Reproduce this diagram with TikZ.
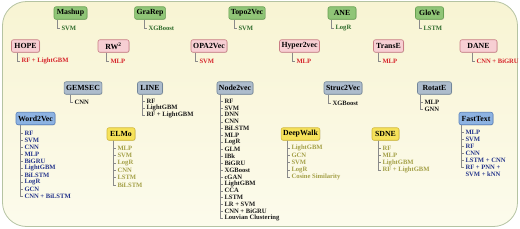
\documentclass[tikz,border=0pt]{standalone}
\usepackage{fontspec}
\setmainfont{Liberation Serif}
\usetikzlibrary{shadows}
\definecolor{bgA}{HTML}{F8F4D3}
\definecolor{bgB}{HTML}{FCFBEC}
\definecolor{bgline}{HTML}{B5C3A2}
\definecolor{gfill}{HTML}{90C577}
\definecolor{gdraw}{HTML}{68A052}
\definecolor{gtext}{HTML}{2E6B2A}
\definecolor{pfill}{HTML}{F7CFD3}
\definecolor{pdraw}{HTML}{C97C84}
\definecolor{ptext}{HTML}{D7252C}
\definecolor{sfill}{HTML}{ADBCCC}
\definecolor{sdraw}{HTML}{72869A}
\definecolor{stext}{HTML}{1C1C1C}
\definecolor{bfill}{HTML}{8DB3E2}
\definecolor{bdraw}{HTML}{5A82BC}
\definecolor{btext}{HTML}{26368C}
\definecolor{yfill}{HTML}{F6E25A}
\definecolor{ydraw}{HTML}{D2B83A}
\definecolor{ytext}{HTML}{A4A047}
\definecolor{connc}{HTML}{8A8A8A}
\tikzset{
  box/.style={draw, rounded corners=2pt, line width=0.6pt, minimum height=12.5pt,
    inner xsep=2pt, inner ysep=1pt, text=black,
    font=\fontsize{7.8}{8}\selectfont\bfseries,
    drop shadow={shadow xshift=0.5pt, shadow yshift=-0.6pt, opacity=0.25, fill=black!60}},
  gbox/.style={box, fill=gfill, draw=gdraw},
  pbox/.style={box, fill=pfill, draw=pdraw},
  sbox/.style={box, fill=sfill, draw=sdraw},
  bbox/.style={box, fill=bfill, draw=bdraw},
  ybox/.style={box, fill=yfill, draw=ydraw},
  kid/.style={anchor=west, inner xsep=1.3pt, inner ysep=0.3pt,
    font=\fontsize{6.6}{7}\selectfont\bfseries},
  gkid/.style={kid, text=gtext},
  pkid/.style={kid, text=ptext},
  skid/.style={kid, text=stext},
  bkid/.style={kid, text=btext},
  ykid/.style={kid, text=ytext},
  conn/.style={draw=connc, line width=0.4pt},
}
% #1 parent, #2 x of vertical line, #3 y of first child, #4 step, #5 style, #6 list
\newcommand{\kidtree}[6]{%
  \foreach \t [count=\i] in {#6}{%
    \node[#5] (#1-\i) at ({#2+3},{#3+(\i-1)*#4}) {\t};
    \draw[conn] (#2,0 |- #1.south) |- (#1-\i.west);
  }}
\begin{document}
\begin{tikzpicture}[x=1pt,y=-1pt]
\useasboundingbox (0,0) rectangle (520,228);
\path[draw=bgline, line width=0.8pt, top color=bgA, bottom color=bgB, rounded corners=24pt]
  (2.5,1.5) rectangle (517.5,226.5);

% row 1 (green)
\node[gbox, minimum width=33pt] (mashup) at (70.5,13) {Mashup};
\node[gbox, minimum width=30pt] (grarep) at (150,13) {GraRep};
\node[gbox, minimum width=36pt] (topo) at (247,13) {Topo2Vec};
\node[gbox, minimum width=28pt] (ane) at (342,13) {ANE};
\node[gbox, minimum width=28pt] (glove) at (429.5,13) {GloVe};
\kidtree{mashup}{57}{28}{7}{gkid}{SVM}
\kidtree{grarep}{144}{28}{7}{gkid}{XGBoost}
\kidtree{topo}{234}{28}{7}{gkid}{SVM}
\kidtree{ane}{331}{28}{7}{gkid}{LogR}
\kidtree{glove}{419}{28}{7}{gkid}{LSTM}

% row 2 (pink)
\node[pbox, minimum width=28pt] (hope) at (25.5,46) {HOPE};
\node[pbox, minimum width=31pt] (rw) at (113.5,46) {RW\textsuperscript{2}};
\node[pbox, minimum width=36pt] (opa) at (209,46) {OPA2Vec};
\node[pbox, minimum width=38pt] (hyper) at (299.5,46) {Hyper2vec};
\node[pbox, minimum width=30pt] (transe) at (388.5,46) {TransE};
\node[pbox, minimum width=37pt] (dane) at (478.5,46) {DANE};
\kidtree{hope}{17}{61}{7}{pkid}{RF + LightGBM}
\kidtree{rw}{106}{61}{7}{pkid}{MLP}
\kidtree{opa}{195}{61}{7}{pkid}{SVM}
\kidtree{hyper}{292}{61}{7}{pkid}{MLP}
\kidtree{transe}{378}{61}{7}{pkid}{MLP}
\kidtree{dane}{472}{61}{7}{pkid}{CNN + BiGRU}

% row 3 (grey)
\node[sbox, minimum width=36pt] (gemsec) at (83,88) {GEMSEC};
\node[sbox, minimum width=25pt] (line) at (150,88) {LINE};
\node[sbox, minimum width=36pt] (node2vec) at (235,88) {Node2vec};
\node[sbox, minimum width=38pt] (struc) at (343,88) {Struc2Vec};
\node[sbox, minimum width=34pt] (rotate) at (434.5,88) {RotatE};
\kidtree{gemsec}{70}{102}{7}{skid}{CNN}
\kidtree{line}{142}{101}{7}{skid}{RF, LightGBM, RF + LightGBM}
\kidtree{node2vec}{220}{101}{6.9}{skid}{RF, SVM, DNN, CNN, BiLSTM, MLP, LogR, GLM, IBk, BiGRU, XGBoost, cGAN, LightGBM, CCA, LSTM, LR + SVM, CNN + BiGRU, Louvian Clustering}
\kidtree{struc}{328}{103}{7}{skid}{XGBoost}
\kidtree{rotate}{420}{102}{7}{skid}{MLP, GNN}

% blue
\node[bbox, minimum width=39pt] (word2vec) at (35.5,118.5) {Word2Vec};
\node[bbox, minimum width=34pt] (fasttext) at (476,118.5) {FastText};
\kidtree{word2vec}{20}{133}{7}{bkid}{RF, SVM, CNN, MLP, BiGRU, LightGBM, BiLSTM, LogR, GCN, CNN + BiLSTM}
\kidtree{fasttext}{461}{132}{7}{bkid}{MLP, SVM, RF, CNN, LSTM + CNN, RF + PNN +}
\node[bkid] (fasttext-7) at (464,174) {SVM + kNN};

% yellow
\node[ybox, minimum width=28pt] (elmo) at (121,134) {ELMo};
\node[ybox, minimum width=36pt] (deepwalk) at (300.5,134) {DeepWalk};
\node[ybox, minimum width=27pt] (sdne) at (385.5,134) {SDNE};
\kidtree{elmo}{113}{148}{7.4}{ykid}{MLP, SVM, LogR, CNN, LSTM, BiLSTM}
\kidtree{deepwalk}{287}{148}{7.3}{ykid}{LightGBM, GCN, SVM, LogR, Cosine Similarity}
\kidtree{sdne}{378}{148}{7.3}{ykid}{RF, MLP, LightGBM, RF + LightGBM}
\end{tikzpicture}
\end{document}
